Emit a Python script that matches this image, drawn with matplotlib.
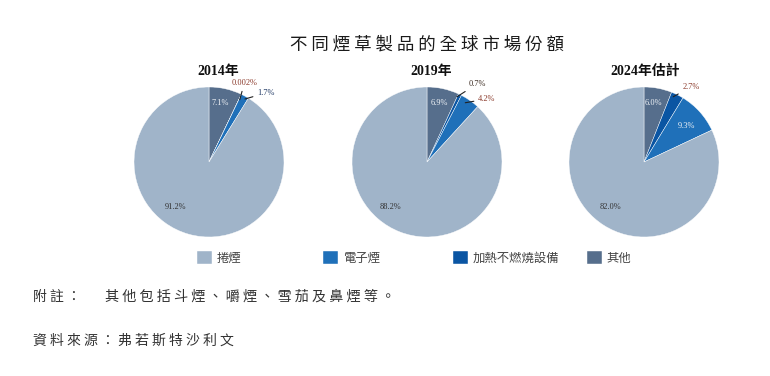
import matplotlib
matplotlib.use('Agg')
import matplotlib.pyplot as plt

plt.rcParams['font.family'] = ['Noto Sans CJK TC', 'DejaVu Sans']

# data (percent share)
years = ['2014年', '2019年', '2024年估計']
categories = ['捲煙', '電子煙', '加熱不燃燒設備', '其他']
cigarette = [91.2, 88.2, 82.0]
ecig = [1.7, 4.2, 9.3]
heated = [0.002, 0.7, 2.7]
other = [7.1, 6.9, 6.0]

colors = {'捲煙': '#A0B4C9', '電子煙': '#1F70B9', '加熱不燃燒設備': '#0A55A3', '其他': '#566E8C'}

W, H = 770, 376
fig = plt.figure(figsize=(W / 100, H / 100), dpi=100)

def fx(x):
    return x / W

def fy(y):
    return 1 - y / H

def fmt(v):
    return f'{v:.1f}%' if v >= 0.1 else f'{v:.3f}%'

serif = ['Liberation Serif', 'Noto Sans CJK TC']
centers = [209, 427, 644]
title_x = [218, 431, 645]
r = 75
cy = 162

# label layout per pie: (x, y, ha, color, leader end or None)
layout = [
    {'其他': (0.15, 0.79, 'center', '#F0F3F7', None),
     '加熱不燃燒設備': (0.47, 1.05, 'center', '#8B3A2B', (0.41, 0.83)),
     '電子煙': (0.64, 0.92, 'left', '#1F3864', (0.48, 0.84)),
     '捲煙': (-0.45, -0.6, 'center', '#333333', None)},
    {'其他': (0.17, 0.79, 'center', '#F0F3F7', None),
     '加熱不燃燒設備': (0.55, 1.04, 'left', '#3A2A20', (0.40, 0.87)),
     '電子煙': (0.68, 0.84, 'left', '#8B3A2B', (0.51, 0.79)),
     '捲煙': (-0.49, -0.6, 'center', '#333333', None)},
    {'其他': (0.12, 0.79, 'center', '#F0F3F7', None),
     '加熱不燃燒設備': (0.51, 1.0, 'left', '#8B3A2B', (0.39, 0.87)),
     '電子煙': (0.57, 0.48, 'center', '#F0F3F7', None),
     '捲煙': (-0.45, -0.6, 'center', '#333333', None)},
]

wedges_first = None
for i, cx in enumerate(centers):
    ax = fig.add_axes([fx(cx - r), fy(cy + r), 2 * r / W, 2 * r / H])
    order = ['其他', '加熱不燃燒設備', '電子煙', '捲煙']
    vals = {'捲煙': cigarette[i], '電子煙': ecig[i], '加熱不燃燒設備': heated[i], '其他': other[i]}
    wedges, _ = ax.pie([vals[k] for k in order], colors=[colors[k] for k in order],
                       startangle=90, counterclock=False, radius=1,
                       wedgeprops=dict(edgecolor='white', linewidth=0.3))
    if wedges_first is None:
        wedges_first = dict(zip(order, wedges))
    ax.set_xlim(-1, 1)
    ax.set_ylim(-1, 1)
    ax.set_aspect('auto')
    ax.axis('off')
    for k in order:
        x, y, ha, c, end = layout[i][k]
        if end is None:
            ax.text(x, y, fmt(vals[k]), ha=ha, va='center', fontsize=6, color=c, family=serif)
        else:
            ax.annotate(fmt(vals[k]), xy=end, xytext=(x, y), ha=ha, va='center',
                        fontsize=6, color=c, family=serif,
                        arrowprops=dict(arrowstyle='-', color='#222222', lw=0.8,
                                        shrinkA=1, shrinkB=0))
    fig.text(fx(title_x[i]), fy(71), years[i], ha='center', va='center',
             fontsize=10, fontweight='bold', family=serif, color='#111111')

# title
fig.text(fx(427), fy(44), ' '.join('不同煙草製品的全球市場份額'), ha='center', va='center',
         fontsize=12.6, fontweight='medium', color='#1a1a1a')

# legend, one entry per fixed column
leg_x = [197, 323, 453, 587]
for k, x in zip(categories, leg_x):
    fig.legend([wedges_first[k]], [k], loc='center left', bbox_to_anchor=(fx(x), fy(258)),
               frameon=False, fontsize=8.9, handlelength=1.2, handleheight=1.2,
               handletextpad=0.4, borderpad=0, borderaxespad=0, labelcolor='#444444')

# notes
fig.text(fx(33), fy(297), ' '.join('附註：'), ha='left', va='center', fontsize=10, color='#333333')
fig.text(fx(105), fy(297), ' '.join('其他包括斗煙、嚼煙、雪茄及鼻煙等。'), ha='left', va='center',
         fontsize=10.2, color='#333333')
fig.text(fx(33), fy(341), ' '.join('資料來源：弗若斯特沙利文'), ha='left', va='center',
         fontsize=10, color='#333333')

fig.savefig('out.png', dpi=100)
